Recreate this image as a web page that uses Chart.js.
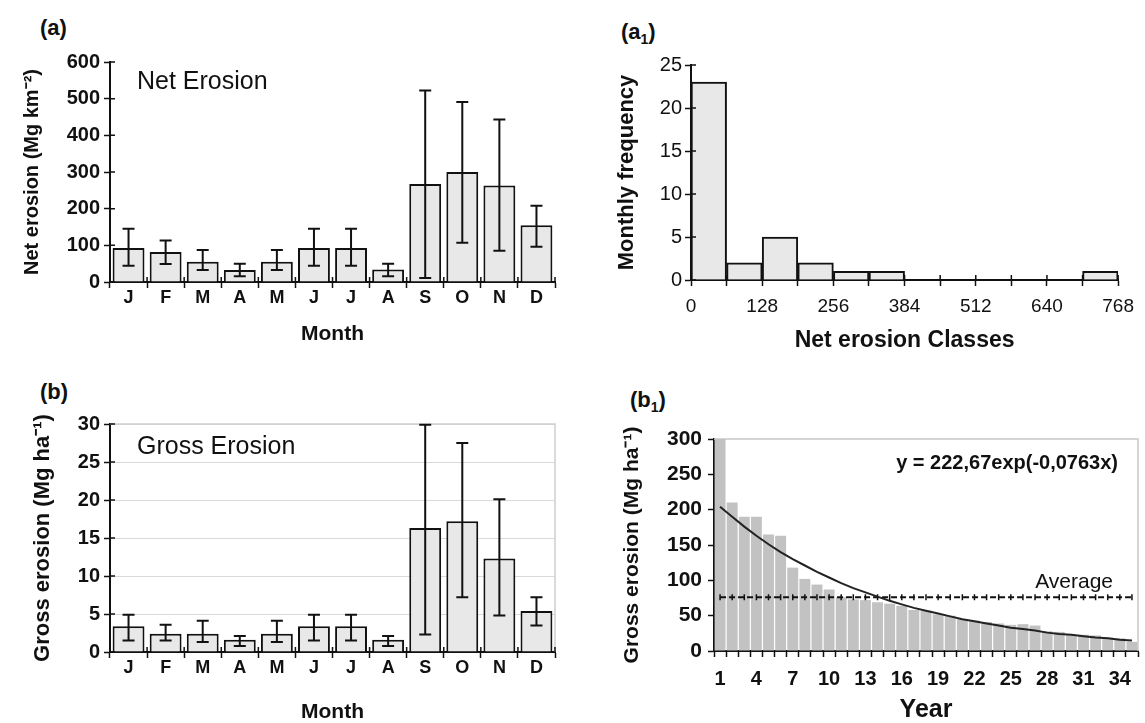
<!DOCTYPE html>
<html>
<head>
<meta charset="utf-8">
<script src="https://cdn.jsdelivr.net/npm/chart.js@4.4.1/dist/chart.umd.min.js"></script>
<style>
  html, body { margin: 0; padding: 0; background: #fff; }
  body { width: 1145px; height: 723px; position: relative; overflow: hidden; font-family: 'Liberation Sans', Arial, sans-serif; color: #111; }
  canvas { position: absolute; }
  .tag { position: absolute; font-weight: bold; font-size: 22px; line-height: 22px; }
  .tag sub { font-size: 14px; line-height: 0; }
</style>
</head>
<body>
<div class="tag" style="left:40px;top:17px">(a)</div>
<div class="tag" style="left:621px;top:21px">(a<sub>1</sub>)</div>
<div class="tag" style="left:40px;top:381px">(b)</div>
<div class="tag" style="left:630px;top:389px">(b<sub>1</sub>)</div>

<canvas id="netChart" width="580" height="320" style="left:0;top:40px"></canvas>
<canvas id="histChart" width="565" height="320" style="left:580px;top:40px"></canvas>
<canvas id="grossChart" width="580" height="343" style="left:0;top:380px"></canvas>
<canvas id="yearChart" width="565" height="343" style="left:580px;top:380px"></canvas>

<script>
// ---- data ----
var months = ['J', 'F', 'M', 'A', 'M', 'J', 'J', 'A', 'S', 'O', 'N', 'D'];

var netErosion = [93, 82, 55, 33, 55, 93, 93, 34, 267, 300, 263, 155];
var netErrHigh = [145, 113, 87, 50, 87, 145, 145, 50, 522, 491, 443, 208];
var netErrLow  = [44, 49, 33, 16, 33, 44, 44, 16, 11, 107, 85, 96];

var grossErosion = [3.4, 2.4, 2.4, 1.6, 2.4, 3.4, 3.4, 1.6, 16.3, 17.2, 12.3, 5.4];
var grossErrHigh = [4.9, 3.6, 4.1, 2.1, 4.1, 4.9, 4.9, 2.1, 29.9, 27.5, 20.1, 7.2];
var grossErrLow  = [1.5, 1.5, 1.3, 0.8, 1.3, 1.5, 1.5, 0.8, 2.3, 7.2, 4.8, 3.5];

var classLower = [0, 64, 128, 192, 256, 320, 384, 448, 512, 576, 640, 704];
var classFreq  = [23, 2, 5, 2, 1, 1, 0, 0, 0, 0, 0, 1];
var classTickLabels = [0, 128, 256, 384, 512, 640, 768];

var years = [1, 2, 3, 4, 5, 6, 7, 8, 9, 10, 11, 12, 13, 14, 15, 16, 17, 18, 19, 20,
             21, 22, 23, 24, 25, 26, 27, 28, 29, 30, 31, 32, 33, 34, 35];
var grossByYear = [304, 210, 190, 190, 165, 163, 118, 102, 94, 87, 76, 73, 72, 69, 67, 64, 58, 57, 52, 50,
                   45, 43, 41, 39, 37, 38, 36, 28, 27, 23, 23, 22, 19, 18, 13];
var trendByYear = [204, 190, 176, 163, 151, 140, 130, 121, 112, 104, 96, 89, 83, 77, 71, 66, 61, 57, 53, 49,
                   45, 42, 39, 36, 33, 31, 29, 26, 24, 23, 21, 19, 18, 16, 15];
var averageGross = 76;
var yearTickLabels = [1, 4, 7, 10, 13, 16, 19, 22, 25, 28, 31, 34];

// ---- helpers ----
var SANS = "'Liberation Sans', Arial, sans-serif";
var NARROW = "'Liberation Sans Narrow', 'Arial Narrow', 'Liberation Sans', sans-serif";
var INK = '#111';

function font(size, weight, family, lh) {
    return { size: size, weight: weight || 'normal', family: family || SANS, lineHeight: lh || 1 };
}

// error bars on top of dataset 0
var errorBars = {
    id: 'errorBars',
    afterDatasetsDraw: function (chart, args, opts) {
        if (!opts.high) return;
        var ctx = chart.ctx, y = chart.scales.y;
        var bars = chart.getDatasetMeta(0).data;
        ctx.save();
        ctx.strokeStyle = INK;
        ctx.lineWidth = 2;
        bars.forEach(function (bar, i) {
            var top = y.getPixelForValue(opts.high[i]);
            var bot = y.getPixelForValue(opts.low[i]);
            ctx.beginPath();
            ctx.moveTo(bar.x, top); ctx.lineTo(bar.x, bot);
            ctx.moveTo(bar.x - opts.cap, top); ctx.lineTo(bar.x + opts.cap, top);
            ctx.moveTo(bar.x - opts.cap, bot); ctx.lineTo(bar.x + opts.cap, bot);
            ctx.stroke();
        });
        ctx.restore();
    }
};

// short tick marks drawn inside the plot so they cross the axes
var innerTicks = {
    id: 'innerTicks',
    afterDatasetsDraw: function (chart, args, opts) {
        if (!opts.len) return;
        var ctx = chart.ctx, area = chart.chartArea, x = chart.scales.x, y = chart.scales.y;
        ctx.save();
        ctx.strokeStyle = INK;
        ctx.lineWidth = 1.5;
        ctx.beginPath();
        y.ticks.forEach(function (t) {
            var py = y.getPixelForValue(t.value);
            ctx.moveTo(area.left, py); ctx.lineTo(area.left + opts.len, py);
        });
        var xs;
        if (x.type === 'category') {
            var step = (x.right - x.left) / x.ticks.length;
            xs = x.ticks.map(function (t, i) { return x.left + i * step; }).concat([x.right]);
        } else {
            xs = x.ticks.map(function (t) { return x.getPixelForValue(t.value); });
        }
        xs.forEach(function (px) {
            ctx.moveTo(px, area.bottom); ctx.lineTo(px, area.bottom - opts.len);
        });
        ctx.stroke();
        ctx.restore();
    }
};

// light frame on top / right of the plot area
var frame = {
    id: 'frame',
    beforeDatasetsDraw: function (chart, args, opts) {
        if (!opts.color) return;
        var ctx = chart.ctx, a = chart.chartArea;
        ctx.save();
        ctx.strokeStyle = opts.color;
        ctx.lineWidth = 1.5;
        ctx.beginPath();
        ctx.moveTo(a.left, a.top); ctx.lineTo(a.right, a.top); ctx.lineTo(a.right, a.bottom);
        ctx.stroke();
        ctx.restore();
    }
};

// free text inside the plot
var notes = {
    id: 'notes',
    afterDraw: function (chart, args, opts) {
        var ctx = chart.ctx, a = chart.chartArea;
        (opts.items || []).forEach(function (n) {
            ctx.save();
            ctx.font = n.font;
            ctx.fillStyle = INK;
            ctx.textAlign = n.align || 'left';
            ctx.textBaseline = 'middle';
            var px = n.fromRight ? a.right - n.dx : a.left + n.dx;
            var py = (n.value !== undefined) ? chart.scales.y.getPixelForValue(n.value) - n.dy : a.top + n.dy;
            ctx.fillText(n.text, px, py);
            ctx.restore();
        });
    }
};

function baseOptions(padding) {
    return {
        responsive: false,
        animation: false,
        devicePixelRatio: 1,
        layout: { padding: padding },
        plugins: { legend: { display: false }, tooltip: { enabled: false } }
    };
}

function tickGrid(extra) {
    var g = { display: true, drawOnChartArea: false, tickLength: 6, tickColor: INK, tickWidth: 1.5 };
    for (var k in extra) g[k] = extra[k];
    return g;
}

// ---- (a) / (b) erosion by month ----
function monthChart(id, values, high, low, opts) {
    var o = baseOptions({ top: opts.padTop, right: 25, bottom: 0, left: 0 });
    o.plugins.errorBars = { high: high, low: low, cap: 6 };
    o.plugins.innerTicks = { len: 5 };
    o.plugins.frame = { color: opts.frame };
    o.plugins.notes = { items: [{ text: opts.label, font: '25px ' + SANS, dx: 27, dy: opts.labelDy }] };
    o.scales = {
        x: {
            grid: tickGrid({ offset: true }),
            border: { color: INK, width: 2 },
            ticks: { color: INK, font: font(18, 'bold'), padding: 1, autoSkip: false, maxRotation: 0 },
            title: { display: true, text: 'Month', color: INK, font: font(21, 'bold', SANS, opts.titleLh),
                     padding: { top: opts.xTitlePad, bottom: opts.xTitlePad } },
            afterFit: function (s) { s.height = opts.xHeight; }
        },
        y: {
            min: 0, max: opts.max,
            grid: tickGrid(opts.grid ? { drawOnChartArea: true, color: '#d9d9d9', lineWidth: 1 } : {}),
            border: { color: INK, width: 2 },
            ticks: { stepSize: opts.step, color: INK, font: font(20, 'bold'), padding: 4 },
            title: { display: true, text: opts.yTitle, color: INK, font: font(opts.yTitleSize, 'bold', SANS, 1.2),
                     padding: { top: opts.yTitlePad, bottom: opts.yTitlePad } },
            afterFit: function (s) { s.width = 110; }
        }
    };
    return new Chart(document.getElementById(id), {
        type: 'bar',
        data: {
            labels: months,
            datasets: [{
                data: values,
                backgroundColor: '#e8e8e8',
                borderColor: INK,
                borderWidth: 2,
                barPercentage: 1,
                categoryPercentage: 0.86
            }]
        },
        options: o,
        plugins: [frame, errorBars, innerTicks, notes]
    });
}

monthChart('netChart', netErosion, netErrHigh, netErrLow, {
    padTop: 22, max: 600, step: 100, xHeight: 78, xTitlePad: 13.4, titleLh: 1.2,
    yTitle: 'Net erosion (Mg km\u207B\u00B2)', yTitleSize: 20, yTitlePad: 20,
    label: 'Net Erosion', labelDy: 20, grid: false, frame: null
});

monthChart('grossChart', grossErosion, grossErrHigh, grossErrLow, {
    padTop: 44, max: 30, step: 5, xHeight: 71, xTitlePad: 0, titleLh: 1.05,
    yTitle: 'Gross erosion (Mg ha\u207B\u00B9)', yTitleSize: 22, yTitlePad: 30,
    label: 'Gross Erosion', labelDy: 23, grid: true, frame: '#d0d0d0'
});

// ---- (a1) histogram of net erosion classes ----
(function () {
    var binWidth = classLower[1] - classLower[0];
    var o = baseOptions({ top: 25, right: 20, bottom: 0, left: 0 });
    o.plugins.innerTicks = { len: 5 };
    o.scales = {
        x: {
            type: 'linear', min: 0, max: 768, offset: false,
            grid: tickGrid({ offset: false }),
            border: { color: INK, width: 2 },
            ticks: {
                stepSize: binWidth, maxTicksLimit: 30, autoSkip: false, maxRotation: 0,
                color: INK, font: font(19, 'normal', NARROW), padding: 11,
                callback: function (v) { return classTickLabels.indexOf(v) >= 0 ? String(v) : ''; }
            },
            title: { display: true, text: 'Net erosion Classes', color: INK, font: font(23, 'bold', SANS, 1.2),
                     padding: { top: 6, bottom: 6 } },
            afterFit: function (s) { s.height = 80; }
        },
        y: {
            min: 0, max: 25,
            grid: tickGrid({}),
            border: { color: INK, width: 2 },
            ticks: { stepSize: 5, color: INK, font: font(20, 'normal', NARROW), padding: 3 },
            title: { display: true, text: 'Monthly frequency', color: INK, font: font(22, 'bold', SANS, 1.2),
                     padding: { top: 34, bottom: 34 } },
            afterFit: function (s) { s.width = 111; }
        }
    };
    new Chart(document.getElementById('histChart'), {
        type: 'bar',
        data: {
            datasets: [{
                data: classFreq.map(function (f, i) { return { x: classLower[i] + binWidth / 2, y: f }; }),
                backgroundColor: '#e8e8e8',
                borderColor: INK,
                borderWidth: 2,
                barPercentage: 1,
                categoryPercentage: 1
            }]
        },
        options: o,
        plugins: [innerTicks]
    });
})();

// ---- (b1) gross erosion by year ----
(function () {
    var o = baseOptions({ top: 59, right: 7, bottom: 0, left: 0 });
    o.plugins.frame = { color: '#c8c8c8' };
    o.plugins.notes = { items: [
        { text: 'y = 222,67exp(-0,0763x)', font: 'bold 20px ' + SANS, align: 'right', fromRight: true, dx: 20, dy: 24 },
        { text: 'Average', font: '21px ' + SANS, align: 'right', fromRight: true, dx: 25, value: averageGross, dy: 15 }
    ] };
    o.scales = {
        x: {
            grid: tickGrid({ offset: true }),
            border: { color: INK, width: 2 },
            ticks: {
                autoSkip: false, maxRotation: 0, color: INK, font: font(20, 'bold'), padding: 12,
                callback: function (v, i) { return yearTickLabels.indexOf(years[i]) >= 0 ? String(years[i]) : ''; }
            },
            title: { display: true, text: 'Year', color: INK, font: font(25, 'bold'), padding: { top: 0.5, bottom: 0.5 } },
            afterFit: function (s) { s.height = 72; }
        },
        y: {
            min: 0, max: 300,
            grid: tickGrid({}),
            border: { color: INK, width: 2 },
            ticks: { stepSize: 50, color: INK, font: font(21, 'bold'), padding: 6 },
            title: { display: true, text: 'Gross erosion (Mg ha\u207B\u00B9)', color: INK, font: font(21, 'bold', SANS, 1.2),
                     padding: { top: 40, bottom: 40 } },
            afterFit: function (s) { s.width = 134; }
        }
    };
    new Chart(document.getElementById('yearChart'), {
        type: 'bar',
        data: {
            labels: years,
            datasets: [
                { type: 'line', data: trendByYear, borderColor: '#222', borderWidth: 2, pointRadius: 0, order: 1 },
                { type: 'line', data: years.map(function () { return averageGross; }), borderColor: INK, borderWidth: 2,
                  borderDash: [6, 3], pointStyle: 'line', pointRadius: 3, pointRotation: 90,
                  pointBorderColor: INK, pointBorderWidth: 1.5, order: 2 },
                { type: 'bar', data: grossByYear, backgroundColor: '#c2c2c2', barPercentage: 0.9, categoryPercentage: 1, order: 3 }
            ]
        },
        options: o,
        plugins: [frame, notes]
    });
})();
</script>
</body>
</html>
